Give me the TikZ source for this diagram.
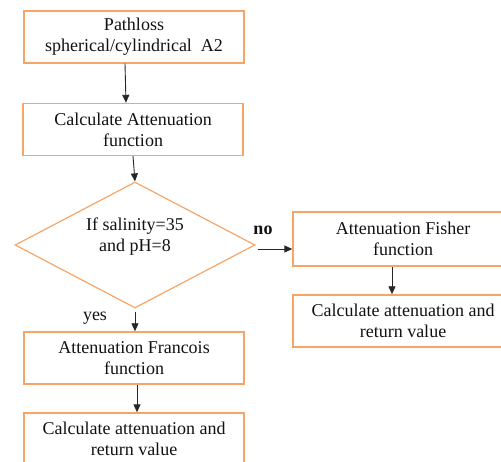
\documentclass[tikz,border=0pt]{standalone}
\usepackage{fontspec}
\setmainfont{Liberation Serif}
\newfontfamily\tnr{Liberation Serif}
\usetikzlibrary{shapes.geometric,arrows.meta}
\definecolor{boxorange}{HTML}{F7A467}
\definecolor{txt}{HTML}{111111}
\tikzset{
  flowbox/.style={draw=boxorange, line width=1.4pt, minimum width=220pt, minimum height=52pt,
    inner sep=0pt, align=center, text=txt, font=\tnr\fontsize{18}{21}\selectfont},
  decision/.style={diamond, draw=boxorange, line width=1.2pt, minimum width=240pt, minimum height=126pt,
    inner sep=0pt, aspect=1.9},
  lbl/.style={align=center, text=txt, font=\tnr\fontsize{18}{21}\selectfont},
  arr/.style={draw=black!85, line width=0.9pt, -{Triangle[length=8pt,width=7pt]}}
}
\begin{document}
\begin{tikzpicture}[x=1pt,y=1pt]
\useasboundingbox (0,0) rectangle (501,461);
\clip (0,0) rectangle (501,461);
\node[flowbox] (b1) at (134,424) {Pathloss\\spherical/cylindrical\ \ A2};
\node[flowbox] (b2) at (133,331.5) {Calculate\ Attenuation\\function};
\node[decision] (d) at (135,216) {};
\node[lbl] (dt) at (135,224) {If salinity=35\\and pH=8};
\node[flowbox, minimum height=54pt] (f1) at (403,222) {Attenuation Fisher\\function};
\node[flowbox] (f2) at (403,140) {Calculate\ attenuation\ and\\return value};
\node[flowbox] (r1) at (134,103) {Attenuation Francois\\function};
\node[flowbox] (r2) at (134,22) {Calculate\ attenuation\ and\\return value};
\node[lbl, font=\tnr\fontsize{18}{21}\selectfont\bfseries] (no) at (263,231) {no};
\node[lbl] (yes) at (95,143) {yes};
\coordinate (dout) at ([xshift=2pt,yshift=-4pt]d.east);
\draw[arr] ([xshift=-9pt]b1.south) -- ([xshift=-7pt]b2.north);
\draw[arr] (b2.south) -- (d.north);
\draw[arr] (dout) -- (f1.west |- dout);
\draw[arr] ([xshift=-11pt]f1.south) -- ([xshift=-11pt]f2.north);
\draw[arr] ([yshift=-3pt]d.south) -- (r1.north -| d.south);
\draw[arr] ([xshift=3pt]r1.south) -- ([xshift=3pt]r2.north);
\end{tikzpicture}
\end{document}
